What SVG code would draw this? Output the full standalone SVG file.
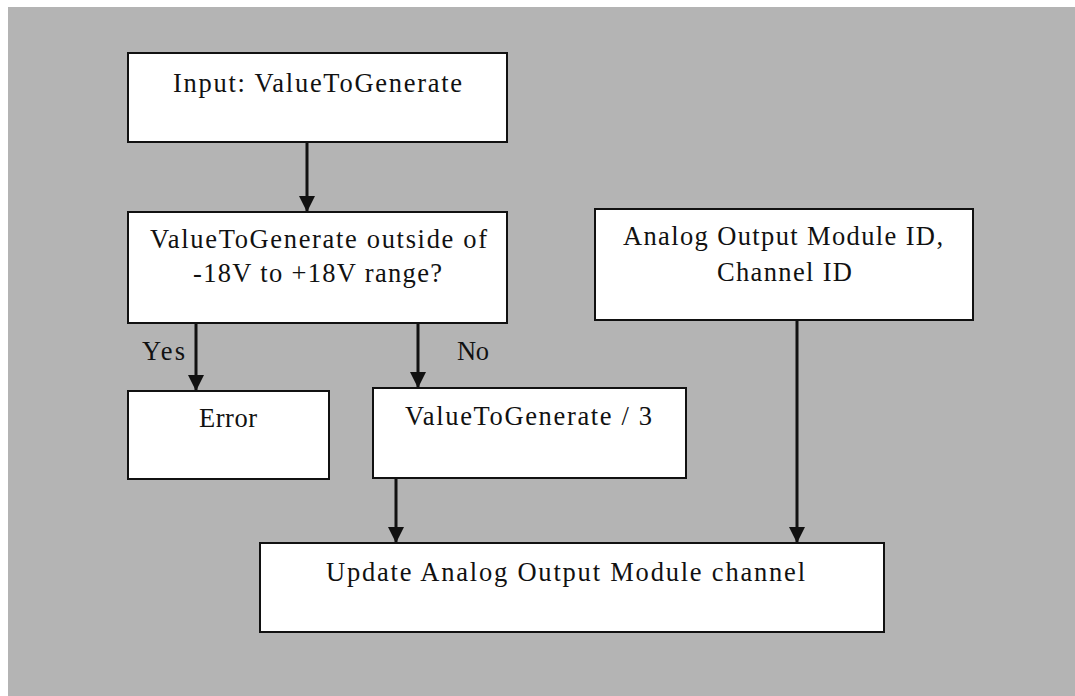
<svg xmlns="http://www.w3.org/2000/svg" width="1075" height="696" viewBox="0 0 1075 696">
  <style>
    .box { fill: #ffffff; stroke: #111111; stroke-width: 2; }
    .lbl { font-family: "Liberation Serif", "Times New Roman", serif; font-size: 26.5px; fill: #111111; }
    .edge { stroke: #111111; stroke-width: 3; fill: none; marker-end: url(#arrow); }
  </style>
  <defs>
    <marker id="arrow" viewBox="0 0 10 10" refX="10" refY="5" markerUnits="userSpaceOnUse" markerWidth="16" markerHeight="16" orient="auto">
      <path d="M0,0 L10,5 L0,10 Z" fill="#111111"/>
    </marker>
  </defs>

  <!-- page -->
  <rect x="0" y="0" width="1075" height="696" fill="#ffffff"/>
  <rect x="8" y="7" width="1067" height="689" fill="#b4b4b4"/>

  <!-- connectors -->
  <g id="connectors">
    <line class="edge" x1="307" y1="143" x2="307" y2="212"/>
    <line class="edge" x1="196" y1="324" x2="196" y2="391"/>
    <line class="edge" x1="418" y1="324" x2="418" y2="388"/>
    <line class="edge" x1="396" y1="479" x2="396" y2="543"/>
    <line class="edge" x1="797" y1="321" x2="797" y2="543"/>
    <text class="lbl" x="142" y="360" textLength="43" lengthAdjust="spacing">Yes</text>
    <text class="lbl" x="457" y="360" textLength="32" lengthAdjust="spacing">No</text>
  </g>

  <g id="input">
    <rect class="box" x="128" y="53" width="379" height="89"/>
    <text class="lbl" x="173" y="92" textLength="289" lengthAdjust="spacing">Input: ValueToGenerate</text>
  </g>

  <g id="range-check">
    <rect class="box" x="128" y="212" width="379" height="111"/>
    <text class="lbl" x="150" y="248" textLength="337" lengthAdjust="spacing">ValueToGenerate outside of</text>
    <text class="lbl" x="193" y="282" textLength="249" lengthAdjust="spacing">-18V to +18V range?</text>
  </g>

  <g id="error">
    <rect class="box" x="128" y="391" width="201" height="88"/>
    <text class="lbl" x="199" y="427" textLength="58" lengthAdjust="spacing">Error</text>
  </g>

  <g id="scale">
    <rect class="box" x="373" y="388" width="313" height="90"/>
    <text class="lbl" x="405" y="425" textLength="247" lengthAdjust="spacing">ValueToGenerate / 3</text>
  </g>

  <g id="module-ids">
    <rect class="box" x="595" y="209" width="378" height="111"/>
    <text class="lbl" x="623" y="245" textLength="320" lengthAdjust="spacing">Analog Output Module ID,</text>
    <text class="lbl" x="717" y="281" textLength="135" lengthAdjust="spacing">Channel ID</text>
  </g>

  <g id="update">
    <rect class="box" x="260" y="543" width="624" height="89"/>
    <text class="lbl" x="326" y="581" textLength="479" lengthAdjust="spacing">Update Analog Output Module channel</text>
  </g>
</svg>
